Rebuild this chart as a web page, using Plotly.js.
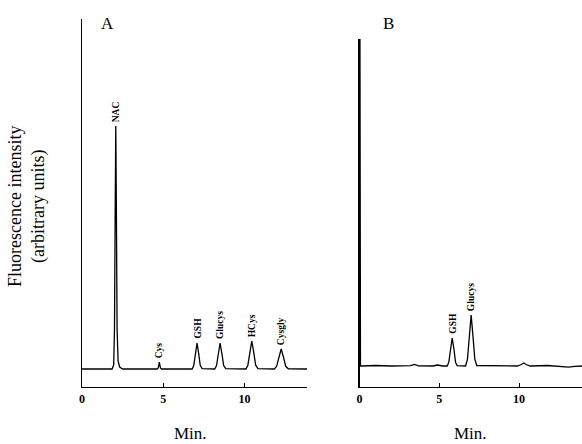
<!DOCTYPE html>
<html>
<head>
<meta charset="utf-8">
<script src="https://cdn.plot.ly/plotly-3.0.1.min.js"></script>
<style>html,body{margin:0;padding:0;background:#fff;}#chart{width:582px;height:444px;}</style>
</head>
<body>
<div id="chart"></div>
<script>
// Panel A chromatogram (time in min, fluorescence in arbitrary units)
const timeA = [0, 1.85, 1.95, 2.0, 2.04, 2.08, 2.12, 2.16, 2.22, 2.32, 2.5,
  4.62, 4.69, 4.73, 4.76, 4.79, 4.83, 4.9,
  6.78, 6.88, 6.98, 7.08, 7.18, 7.28, 7.4,
  8.17, 8.28, 8.39, 8.5, 8.61, 8.72, 8.85,
  10.09, 10.21, 10.33, 10.45, 10.57, 10.69, 10.83,
  11.84, 11.98, 12.12, 12.26, 12.40, 12.54, 12.7, 13.85];
const intensityA = [0, 0, 4, 40, 150, 243, 150, 40, 8, 2, 0,
  0, 1, 4, 7, 4, 1, 0,
  0, 3.5, 15.6, 26, 15.6, 3.5, 0.3,
  0, 3.5, 15.6, 26, 15.6, 3.5, 0.3,
  0, 3.8, 16.8, 28, 16.8, 3.8, 0.3,
  0, 2.7, 12, 20, 12, 2.7, 0.2, 0];

// Panel B chromatogram
const timeB = [0.02, 0.06, 0.15, 1.0, 2.0, 3.2, 3.45, 3.7, 4.6, 4.9, 5.2,
  5.5, 5.6, 5.7, 5.81, 5.92, 6.02, 6.12,
  6.65, 6.77, 6.89, 7.0, 7.11, 7.23, 7.35, 7.7, 8.5, 9.9, 10.15, 10.3, 10.45, 10.7,
  11.8, 12.6, 13.1, 13.5, 13.95];
const intensityB = [420, 0, 0, 0.5, 0, 0.3, 1.5, 0.2, 0, 1, 0,
  0, 3.8, 17, 28, 17, 3.8, 0.3,
  0, 6.9, 30.6, 51, 30.6, 6.9, 0.5, 0.5, 0, 0, 1.5, 3, 1.5, 0,
  0.5, -0.5, -1.2, -0.3, 0];

// Peak labels
const peaksA = ["NAC", "Cys", "GSH", "Glucys", "HCys", "Cysgly"];
const peakTimeA = [2.08, 4.76, 7.08, 8.5, 10.45, 12.26];
const peakHeightA = [243, 7, 26, 26, 28, 20];
const peaksB = ["GSH", "Glucys"];
const peakTimeB = [5.81, 7.0];
const peakHeightB = [28, 51];

const xTicks = [0, 5, 10];
const xTickText = ["0", "5", "10"];

const serif = "Liberation Serif, Times New Roman, serif";
const lineStyle = {color: "#000", width: 1.3};

const traces = [
  {x: timeA, y: intensityA, type: "scatter", mode: "lines", line: lineStyle, xaxis: "x", yaxis: "y", hoverinfo: "skip"},
  {x: timeB, y: intensityB, type: "scatter", mode: "lines", line: lineStyle, xaxis: "x2", yaxis: "y2", hoverinfo: "skip"}
];

function xAxis(domain, range) {
  return {
    domain: domain, range: range, showgrid: false, zeroline: false,
    showline: true, linecolor: "#000", linewidth: 1.3,
    ticks: "inside", ticklen: 4, tickcolor: "#000", tickwidth: 1,
    tickvals: xTicks, ticktext: xTickText,
    tickfont: {family: serif, size: 12, color: "#000", weight: "bold"}
  };
}
function yAxis(domain, range, anchor) {
  return {
    domain: domain, range: range, anchor: anchor, showgrid: false, zeroline: false,
    showline: true, linecolor: "#000", linewidth: 1.3,
    ticks: "", showticklabels: false
  };
}

const annotations = [];
function addPeakLabels(names, times, heights, xr, yr) {
  names.forEach((n, i) => {
    annotations.push({
      x: times[i], y: heights[i], xref: xr, yref: yr, text: "<b>" + n + "</b>",
      showarrow: false, textangle: -90, xanchor: "center", yanchor: "bottom", yshift: 2,
      font: {family: serif, size: 9.5, color: "#000"}
    });
  });
}
addPeakLabels(peaksA, peakTimeA, peakHeightA, "x", "y");
addPeakLabels(peaksB, peakTimeB, peakHeightB, "x2", "y2");

annotations.push(
  {text: "A", xref: "paper", yref: "paper", x: 107/582, y: 1 - 23/444, showarrow: false,
   xanchor: "center", yanchor: "middle", font: {family: serif, size: 17, color: "#000"}},
  {text: "B", xref: "paper", yref: "paper", x: 388/582, y: 1 - 23/444, showarrow: false,
   xanchor: "center", yanchor: "middle", font: {family: serif, size: 17, color: "#000"}},
  {text: "Min.", xref: "paper", yref: "paper", x: 190/582, y: 1 - 433/444, showarrow: false,
   xanchor: "center", yanchor: "middle", font: {family: serif, size: 17, color: "#000"}},
  {text: "Min.", xref: "paper", yref: "paper", x: 470/582, y: 1 - 433/444, showarrow: false,
   xanchor: "center", yanchor: "middle", font: {family: serif, size: 17, color: "#000"}},
  {text: "Fluorescence intensity<br>(arbitrary units)", xref: "paper", yref: "paper",
   x: 27/582, y: 1 - 207/444, showarrow: false, textangle: -90,
   xanchor: "center", yanchor: "middle", font: {family: serif, size: 18, color: "#000"}}
);

const layout = {
  width: 582, height: 444,
  margin: {l: 0, r: 0, t: 0, b: 0},
  paper_bgcolor: "#fff", plot_bgcolor: "#fff",
  showlegend: false,
  xaxis: xAxis([82/582, 307/582], [0, 13.85]),
  yaxis: yAxis([1 - 387/444, 1 - 19/444], [-18, 350], "x"),
  xaxis2: Object.assign(xAxis([359.5/582, 1], [0, 13.95]), {anchor: "y2"}),
  yaxis2: yAxis([1 - 387/444, 1 - 39/444], [-21, 327], "x2"),
  annotations: annotations
};
layout.xaxis.anchor = "y";

Plotly.newPlot("chart", traces, layout, {displayModeBar: false, staticPlot: true});
</script>
</body>
</html>
